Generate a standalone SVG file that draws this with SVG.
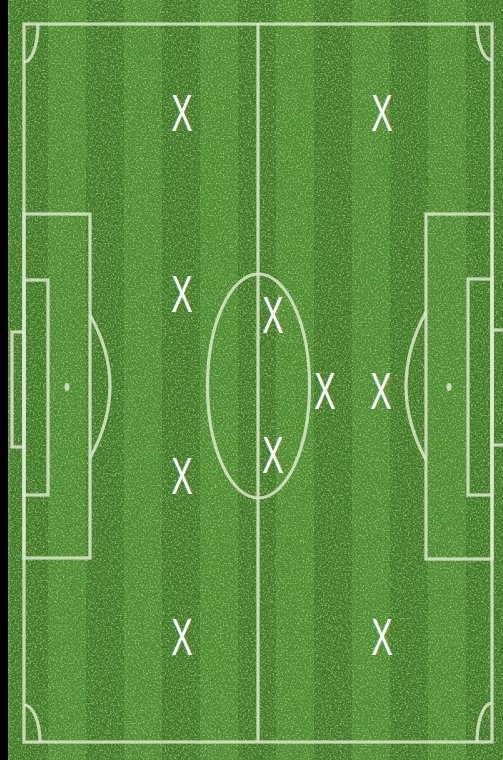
<svg xmlns="http://www.w3.org/2000/svg" width="503" height="760" viewBox="0 0 503 760">
<defs>
<pattern id="stripes" x="10" y="0" width="76" height="760" patternUnits="userSpaceOnUse">
<rect x="0" y="0" width="38" height="760" fill="#3d7824"/>
<rect x="38" y="0" width="38" height="760" fill="#4c8e2f"/>
</pattern>
<filter id="grain" x="0" y="0" width="100%" height="100%">
<feTurbulence type="fractalNoise" baseFrequency="0.6" numOctaves="3" seed="7" result="n"/>
<feColorMatrix in="n" type="matrix" values="0 0 0 0 0.6  0 0 0 0 0.8  0 0 0 0 0.35  2.6 0 0 0 -1.2"/>
</filter>
<filter id="grain2" x="0" y="0" width="100%" height="100%">
<feTurbulence type="fractalNoise" baseFrequency="0.35" numOctaves="3" seed="19" result="n"/>
<feColorMatrix in="n" type="matrix" values="0 0 0 0 0.1  0 0 0 0 0.25  0 0 0 0 0.05  2.8 0 0 0 -1.1"/>
</filter>
<style>
.ln{fill:none;stroke:#dde8cf;stroke-width:3.2;stroke-opacity:0.85}
.spot{fill:#dde8cf;fill-opacity:0.85}
.x{font-family:"Liberation Sans",Arial,sans-serif;font-size:32px;fill:#ffffff;text-anchor:middle}
</style>
</defs>
<rect x="0" y="0" width="503" height="760" fill="#000"/>
<rect x="8" y="0" width="495" height="760" fill="url(#stripes)"/>
<rect x="8" y="0" width="495" height="760" filter="url(#grain2)" opacity="0.75"/>
<rect x="8" y="0" width="495" height="760" filter="url(#grain)" opacity="0.6"/>
<g id="pitch-lines">
<rect class="ln" x="24" y="24" width="468" height="718"/>
<line class="ln" x1="258" y1="24" x2="258" y2="742"/>
<ellipse class="ln" cx="258.5" cy="386" rx="51" ry="112"/>
<rect class="ln" x="24" y="214" width="66" height="344"/>
<rect class="ln" x="24" y="280" width="24" height="215"/>
<rect class="ln" x="12" y="332" width="12" height="115"/>
<ellipse class="spot" cx="67" cy="387" rx="2.5" ry="4"/>
<path class="ln" d="M90 315 Q130 386 90 458"/>
<rect class="ln" x="426" y="214" width="66" height="345"/>
<rect class="ln" x="468" y="279" width="24" height="216"/>
<rect class="ln" x="492" y="330" width="14" height="115"/>
<ellipse class="spot" cx="449" cy="387" rx="2.5" ry="4"/>
<path class="ln" d="M426 312 Q386 386 426 460"/>
<path class="ln" d="M38 24 A14 38 0 0 1 24 62"/>
<path class="ln" d="M24 705 A16 37 0 0 1 40 742"/>
<path class="ln" d="M477 24 A15 36 0 0 0 492 60"/>
<path class="ln" d="M492 703 A15 39 0 0 0 477 742"/>
</g>
<g id="players">
<g id="p1" transform="translate(182,113) scale(1,1.6)"><text class="x" x="0" y="11.4">X</text></g>
<g id="p2" transform="translate(382,113) scale(1,1.6)"><text class="x" x="0" y="11.4">X</text></g>
<g id="p3" transform="translate(182,294) scale(1,1.6)"><text class="x" x="0" y="11.4">X</text></g>
<g id="p4" transform="translate(273,315) scale(1,1.6)"><text class="x" x="0" y="11.4">X</text></g>
<g id="p5" transform="translate(325,391) scale(1,1.6)"><text class="x" x="0" y="11.4">X</text></g>
<g id="p6" transform="translate(381,391) scale(1,1.6)"><text class="x" x="0" y="11.4">X</text></g>
<g id="p7" transform="translate(182,476) scale(1,1.6)"><text class="x" x="0" y="11.4">X</text></g>
<g id="p8" transform="translate(273,455) scale(1,1.6)"><text class="x" x="0" y="11.4">X</text></g>
<g id="p9" transform="translate(182,637) scale(1,1.6)"><text class="x" x="0" y="11.4">X</text></g>
<g id="p10" transform="translate(382,637) scale(1,1.6)"><text class="x" x="0" y="11.4">X</text></g>
</g>
</svg>
